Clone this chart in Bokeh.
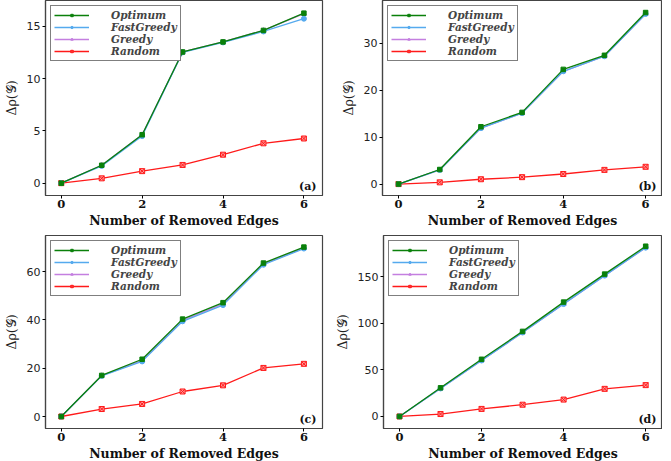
from bokeh.plotting import figure
from bokeh.models import Range1d, FixedTicker, Legend, LegendItem, Label
from bokeh.layouts import column, row
from bokeh.embed import file_html
from bokeh.resources import INLINE

edges = [0, 1, 2, 3, 4, 5, 6]
x_ticks = [0, 2, 4, 6]

opt_a = [0.0, 1.71, 4.63, 12.54, 13.5, 14.6, 16.25]
fast_a = [0.0, 1.65, 4.5, 12.5, 13.45, 14.5, 15.72]
greedy_a = [0.0, 1.71, 4.63, 12.54, 13.5, 14.6, 16.2]
rand_a = [0.0, 0.46, 1.15, 1.74, 2.72, 3.81, 4.27]
yticks_a = [0, 5, 10, 15]

opt_b = [0.0, 3.1, 12.2, 15.25, 24.4, 27.4, 36.5]
fast_b = [0.0, 3.0, 11.9, 15.1, 24.0, 27.2, 36.2]
greedy_b = [0.0, 3.0, 11.9, 15.1, 24.0, 27.2, 36.2]
rand_b = [0.0, 0.37, 1.03, 1.47, 2.14, 3.02, 3.68]
yticks_b = [0, 10, 20, 30]

opt_c = [0.0, 17.0, 23.7, 40.3, 47.1, 63.5, 70.1]
fast_c = [0.0, 16.8, 22.8, 39.4, 46.1, 62.8, 69.5]
greedy_c = [0.0, 16.9, 23.2, 39.8, 46.6, 63.1, 69.8]
rand_c = [0.0, 3.1, 5.2, 10.35, 12.9, 20.1, 21.8]
yticks_c = [0, 20, 40, 60]

opt_d = [0.0, 30.7, 61.3, 91.2, 122.6, 152.6, 182.5]
fast_d = [0.0, 30.0, 60.0, 90.0, 120.5, 151.0, 181.0]
greedy_d = [0.0, 30.0, 60.0, 90.0, 120.5, 151.0, 181.0]
rand_d = [0.0, 2.6, 8.1, 12.6, 18.1, 29.6, 33.6]
yticks_d = [0, 50, 100, 150]

names = ["Optimum", "FastGreedy", "Greedy", "Random"]

GREEN = "#0a800a"
BLUE = "#55aaee"
PURPLE = "#c47fe0"
RED = "#ff1a1a"
FRAME = "#444444"


def panel(opt, fast, greedy, rand, yticks, yr, xr, letter, w, h, bl, br, bt, bb):
    p = figure(width=w, height=h, output_backend="svg", toolbar_location=None,
               x_range=Range1d(*xr), y_range=Range1d(*yr),
               min_border_left=bl, min_border_right=br,
               min_border_top=bt, min_border_bottom=bb)
    p.xgrid.visible = False
    p.ygrid.visible = False
    p.outline_line_color = FRAME
    p.outline_line_width = 1.2
    p.background_fill_color = "white"
    p.border_fill_color = "white"

    for ax in (p.xaxis[0], p.yaxis[0]):
        ax.axis_line_color = FRAME
        ax.axis_line_width = 1.2
        ax.major_tick_out = 3
        ax.major_tick_in = 0
        ax.minor_tick_out = 0
        ax.minor_tick_in = 0
        ax.major_tick_line_color = "black"
        ax.major_label_standoff = 1
    p.xaxis.ticker = FixedTicker(ticks=x_ticks)
    p.yaxis.ticker = FixedTicker(ticks=yticks)
    p.xaxis.major_label_text_font = "DejaVu Serif"
    p.xaxis.major_label_text_font_style = "bold"
    p.xaxis.major_label_text_font_size = "11.5px"
    p.xaxis.major_label_text_color = "#111111"
    p.yaxis.major_label_text_font = "DejaVu Sans"
    p.yaxis.major_label_text_font_size = "11px"
    p.yaxis.major_label_text_color = "#222222"
    p.yaxis.major_label_standoff = 2
    p.xaxis.axis_label = "Number of Removed Edges"
    p.xaxis.axis_label_text_font = "DejaVu Serif"
    p.xaxis.axis_label_text_font_style = "bold"
    p.xaxis.axis_label_text_font_size = "12.5px"
    p.xaxis.axis_label_text_color = "#111111"
    p.xaxis.axis_label_standoff = 2
    p.yaxis.axis_label = "Δρ(𝒢)"
    p.yaxis.axis_label_text_font = "DejaVu Serif"
    p.yaxis.axis_label_text_font_style = "normal"
    p.yaxis.axis_label_text_font_size = "12.5px"
    p.yaxis.axis_label_text_color = "#222222"
    p.yaxis.axis_label_standoff = 5

    lw = 1.3
    r_l = p.line(edges, rand, color=RED, line_width=lw)
    r_m = p.scatter(edges, rand, marker="square_x", size=5, line_color=RED,
                    fill_color="#ff9a9a", line_width=1)
    g_l = p.line(edges, greedy, color=PURPLE, line_width=lw)
    g_m = p.scatter(edges, greedy, marker="triangle", size=5, color=PURPLE)
    f_l = p.line(edges, fast, color=BLUE, line_width=lw)
    f_m = p.scatter(edges, fast, marker="circle", size=5, color=BLUE)
    o_l = p.line(edges, opt, color=GREEN, line_width=lw)
    o_m = p.scatter(edges, opt, marker="square", size=4.5, color=GREEN)

    items = [
        LegendItem(label=names[0], renderers=[o_l, o_m]),
        LegendItem(label=names[1], renderers=[f_l, f_m]),
        LegendItem(label=names[2], renderers=[g_l, g_m]),
        LegendItem(label=names[3], renderers=[r_l, r_m]),
    ]
    leg = Legend(items=items, location="top_left", margin=5,
                 glyph_width=35, glyph_height=6, label_height=6,
                 label_standoff=22, spacing=0, padding=3,
                 label_text_font="DejaVu Serif", label_text_font_style="bold italic",
                 label_text_font_size="10.5px",
                 border_line_color="black", border_line_width=1.2,
                 background_fill_color="white", background_fill_alpha=1.0)
    p.add_layout(leg, "center")

    lab = Label(x=xr[1], y=yr[0], x_offset=-6, y_offset=3, text=letter,
                text_align="right", text_baseline="bottom",
                text_font="DejaVu Serif", text_font_style="bold",
                text_font_size="11px", text_color="#111111")
    p.add_layout(lab)
    return p


pa = panel(opt_a, fast_a, greedy_a, rand_a, yticks_a, (-1.18, 17.46), (-0.39, 6.46),
           "(a)", 331, 230, 40, 9, 0, 0)
pb = panel(opt_b, fast_b, greedy_b, rand_b, yticks_b, (-2.43, 39.06), (-0.39, 6.41),
           "(b)", 331, 230, 51, 0, 0, 0)
pc = panel(opt_c, fast_c, greedy_c, rand_c, yticks_c, (-4.96, 74.9), (-0.39, 6.46),
           "(c)", 331, 233, 40, 9, 4, 0)
pd = panel(opt_d, fast_d, greedy_d, rand_d, yticks_d, (-12.9, 194.0), (-0.39, 6.41),
           "(d)", 331, 233, 52, 0, 5, 0)
pc.margin = (0, 0, -10, 0)
pd.margin = (0, 0, -10, 0)

layout = column(row(pa, pb), row(pc, pd))
open("out.html", "w").write(file_html(layout, INLINE))
